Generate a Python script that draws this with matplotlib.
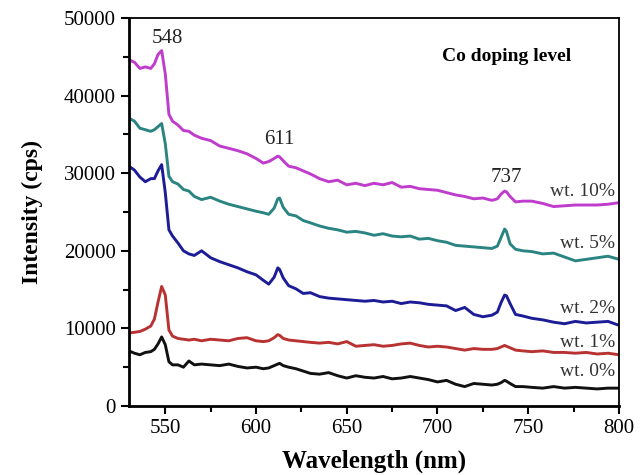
import matplotlib
matplotlib.use("Agg")
import matplotlib.pyplot as plt
from matplotlib.ticker import MultipleLocator

plt.rcParams['font.family'] = ['Liberation Serif', 'DejaVu Serif']

wavelength = [530, 533, 536, 539, 542, 544, 546, 548, 550, 552, 554, 557, 560, 563, 566, 570,
              575, 580, 585, 590, 595, 600, 604, 607, 610, 612, 613, 615, 618, 622, 626, 630,
              635, 640, 645, 650, 655, 660, 665, 670, 675, 680, 685, 690, 695, 700, 705, 710,
              715, 720, 725, 730, 733, 735, 737, 738, 740, 743, 747, 752, 758, 764, 770, 776,
              782, 788, 794, 800]

wt10 = [44600, 44300, 43500, 43700, 43500, 44100, 45300, 45800, 42800, 37600, 36700, 36200, 35500, 35400, 34900, 34500,
        34200, 33500, 33200, 32900, 32500, 31900, 31300, 31500, 31900, 32200, 32100, 31600, 30900, 30700, 30300, 29900,
        29300, 28900, 29100, 28500, 28700, 28400, 28700, 28500, 28800, 28200, 28300, 28000, 27900, 27800, 27500, 27200,
        27000, 26700, 26800, 26500, 26700, 27300, 27700, 27600, 27000, 26300, 26400, 26400, 26100, 25700, 25800, 25900,
        25900, 25900, 26000, 26200]

wt5 = [37100, 36700, 35800, 35600, 35400, 35600, 36000, 36400, 33800, 29600, 28900, 28600, 27900, 27700, 27000, 26600,
       26900, 26400, 26000, 25700, 25400, 25100, 24900, 24700, 25500, 26700, 26800, 25600, 24700, 24500, 23900, 23600,
       23200, 22900, 22700, 22400, 22500, 22300, 22000, 22200, 21900, 21800, 21900, 21500, 21600, 21300, 21100, 20700,
       20600, 20500, 20400, 20300, 20600, 21700, 22800, 22500, 20900, 20200, 20000, 19900, 19600, 19700, 19200, 18700,
       18900, 19100, 19300, 18900]

wt2 = [30900, 30400, 29500, 28900, 29300, 29300, 30300, 31100, 27500, 22700, 21900, 21000, 20000, 19600, 19400, 20000,
       19100, 18600, 18200, 17800, 17300, 16900, 16200, 15700, 16600, 17800, 17600, 16500, 15500, 15100, 14500, 14600,
       14100, 13900, 13800, 13700, 13600, 13500, 13600, 13400, 13500, 13200, 13400, 13300, 13100, 13000, 12900, 12300,
       12700, 11800, 11500, 11700, 12100, 13300, 14300, 14200, 13200, 11800, 11600, 11300, 11100, 10800, 10600, 10900,
       10700, 10800, 10900, 10400]

wt1 = [9400, 9500, 9600, 9900, 10300, 11200, 13400, 15400, 14300, 9800, 9000, 8700, 8600, 8500, 8600, 8400,
       8600, 8500, 8400, 8700, 8800, 8400, 8300, 8400, 8800, 9200, 9100, 8700, 8500, 8400, 8300, 8200,
       8100, 8200, 8000, 8300, 7700, 7800, 7900, 7700, 7800, 8000, 8100, 7800, 7600, 7700, 7600, 7400,
       7200, 7400, 7300, 7300, 7400, 7600, 7800, 7700, 7500, 7200, 7100, 7000, 7100, 6900, 6900, 6800,
       6900, 6700, 6800, 6600]

wt0 = [7100, 6800, 6600, 6900, 7000, 7300, 8000, 8900, 7900, 5700, 5300, 5300, 5000, 5800, 5300, 5400,
       5300, 5200, 5400, 5100, 4900, 5000, 4800, 4900, 5200, 5400, 5500, 5200, 5000, 4800, 4500, 4200,
       4100, 4300, 3900, 3600, 3900, 3700, 3600, 3800, 3500, 3600, 3800, 3600, 3400, 3100, 3300, 2800,
       2500, 2900, 2800, 2700, 2800, 3000, 3300, 3200, 2900, 2500, 2500, 2400, 2300, 2500, 2300, 2400,
       2300, 2200, 2300, 2300]

series = [wt10, wt5, wt2, wt1, wt0]
colors = ['#c03ccc', '#2a8582', '#1c1c96', '#b83232', '#111111']
labels = ['wt. 10%', 'wt. 5%', 'wt. 2%', 'wt. 1%', 'wt. 0%']
label_y = [27600, 21000, 12600, 8200, 4400]

peak_labels = ['548', '611', '737']
peak_x = [551, 613, 738]
peak_y = [47300, 34400, 29400]

fig = plt.figure(figsize=(6.44, 4.75), dpi=100)
ax = fig.add_axes([0.2003, 0.1453, 0.7608, 0.8168])

for ys, c in zip(series, colors):
    ax.plot(wavelength, ys, color=c, lw=2.1)

ax.set_xlim(530, 800)
ax.set_ylim(0, 50000)
ax.xaxis.set_major_locator(MultipleLocator(50))
ax.xaxis.set_minor_locator(MultipleLocator(25))
ax.yaxis.set_major_locator(MultipleLocator(10000))
ax.yaxis.set_minor_locator(MultipleLocator(5000))
ax.tick_params(which='both', direction='out', top=False, right=False, width=1.5)
ax.tick_params(which='major', length=6, labelsize=15)
ax.tick_params(which='minor', length=4)
for s in ax.spines.values():
    s.set_linewidth(1.3)
for s in ['left', 'bottom']:
    ax.spines[s].set_linewidth(2.0)

ax.set_xlabel('Wavelength (nm)', fontsize=18, fontweight='bold', labelpad=8)
ax.set_ylabel('Intensity (cps)', fontsize=17, fontweight='bold', labelpad=15)

for t, x, y in zip(peak_labels, peak_x, peak_y):
    ax.text(x, y, t, fontsize=15, ha='center', va='center', color='#222222')

for t, y in zip(labels, label_y):
    ax.text(798, y, t, fontsize=14, ha='right', va='center', color='#333333')

ax.text(738, 45000, 'Co doping level', fontsize=14, fontweight='bold', ha='center', va='center')

fig.savefig('out.png', dpi=100)
